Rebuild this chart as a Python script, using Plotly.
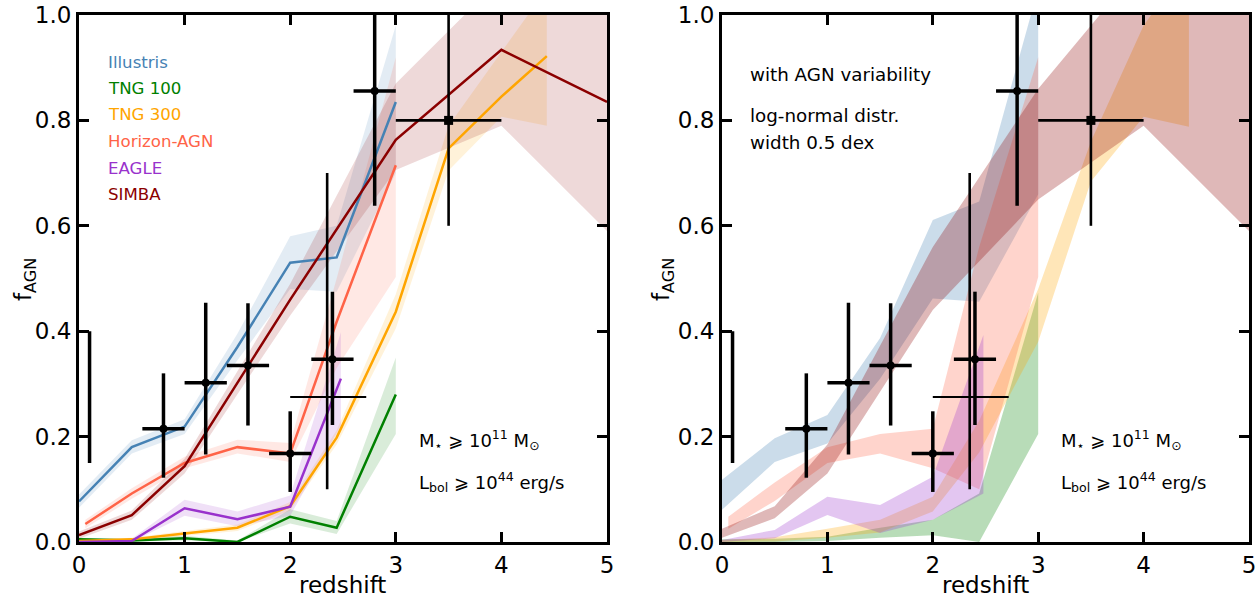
import plotly.graph_objects as go

# ---------------- data ----------------
# observational points (same in both panels)
obs_z = [0.8, 1.2, 1.6, 2.0, 2.4, 2.8]
obs_f = [0.215, 0.302, 0.335, 0.168, 0.347, 0.856]
obs_zerr = [0.2, 0.2, 0.2, 0.2, 0.2, 0.2]
obs_ferr_up = [0.105, 0.152, 0.118, 0.080, 0.128, 0.220]
obs_ferr_dn = [0.093, 0.136, 0.114, 0.073, 0.125, 0.218]

thin_z = [2.35]
thin_f = [0.275]
thin_zerr_up = [0.37]
thin_zerr_dn = [0.35]
thin_ferr_up = [0.425]
thin_ferr_dn = [0.175]

sq_z = [3.5]
sq_f = [0.80]
sq_zerr = [0.5]
sq_ferr_up = [0.25]
sq_ferr_dn = [0.20]

local_z = [0.1, 0.1]
local_f = [0.15, 0.40]

# simulations: medians (left) and spreads (left: Poisson, right: with variability)
ill_z = [0, 0.5, 1.0, 1.5, 2.0, 2.44, 3.0]
ill_f = [0.077, 0.180, 0.219, 0.370, 0.530, 0.540, 0.835]
ill_lo = [0.065, 0.168, 0.205, 0.345, 0.480, 0.475, 0.700]
ill_hi = [0.090, 0.193, 0.233, 0.395, 0.580, 0.600, 0.980]
ill_lo_v = [0.061, 0.152, 0.187, 0.310, 0.462, 0.456, 0.660]
ill_hi_v = [0.118, 0.197, 0.241, 0.387, 0.611, 0.646, 1.050]

t100_z = [0, 0.5, 1.0, 1.5, 2.0, 2.44, 3.0]
t100_f = [0.005, 0.003, 0.007, 0.0, 0.048, 0.027, 0.280]
t100_lo = [0.002, 0.001, 0.003, 0.0, 0.035, 0.015, 0.205]
t100_hi = [0.008, 0.006, 0.012, 0.003, 0.062, 0.040, 0.350]
t100_lo_v = [0.0, 0.0, 0.002, 0.008, 0.013, 0.0, 0.205]
t100_hi_v = [0.005, 0.006, 0.010, 0.027, 0.042, 0.092, 0.473]

t300_z = [0, 0.5, 1.0, 1.5, 2.0, 2.44, 3.0, 3.5, 4.0, 4.43]
t300_f = [0.002, 0.005, 0.016, 0.027, 0.068, 0.198, 0.437, 0.747, 0.845, 0.922]
t300_lo = [0.0, 0.002, 0.011, 0.021, 0.060, 0.185, 0.405, 0.705, 0.807, 0.790]
t300_hi = [0.004, 0.008, 0.021, 0.033, 0.076, 0.212, 0.470, 0.790, 0.930, 1.050]
t300_lo_v = [0.0, 0.001, 0.008, 0.018, 0.058, 0.170, 0.380, 0.684, 0.807, 0.788]
t300_hi_v = [0.004, 0.009, 0.025, 0.042, 0.086, 0.230, 0.480, 0.760, 0.980, 1.100]

hz_z = [0.06, 0.5, 1.0, 1.5, 2.0, 2.44, 3.0]
hz_f = [0.034, 0.092, 0.150, 0.180, 0.168, 0.418, 0.715]
hz_lo = [0.026, 0.082, 0.140, 0.168, 0.152, 0.330, 0.503]
hz_hi = [0.042, 0.102, 0.162, 0.194, 0.188, 0.500, 0.920]
hz_lo_v = [0.025, 0.078, 0.150, 0.168, 0.140, 0.100, 0.503]
hz_hi_v = [0.048, 0.113, 0.180, 0.205, 0.215, 0.560, 0.920]

ea_z = [0, 0.5, 1.0, 1.5, 2.0, 2.48]
ea_f = [0.0, 0.002, 0.064, 0.043, 0.067, 0.310]
ea_lo = [0.0, 0.0, 0.050, 0.030, 0.050, 0.220]
ea_hi = [0.002, 0.006, 0.080, 0.058, 0.088, 0.398]
ea_lo_v = [0.0, 0.007, 0.051, 0.017, 0.042, 0.092]
ea_hi_v = [0.004, 0.023, 0.086, 0.070, 0.124, 0.393]

si_z = [0, 0.5, 1.0, 2.0, 3.0, 4.0, 5.0]
si_f = [0.013, 0.051, 0.144, 0.460, 0.763, 0.934, 0.835]
si_lo = [0.006, 0.042, 0.130, 0.430, 0.706, 0.790, 0.590]
si_hi = [0.020, 0.060, 0.158, 0.490, 0.870, 1.070, 1.100]
si_lo_v = [0.008, 0.045, 0.130, 0.440, 0.650, 0.790, 0.590]
si_hi_v = [0.025, 0.068, 0.185, 0.560, 0.860, 1.100, 1.100]

sim_names = ["Illustris", "TNG 100", "TNG 300", "Horizon-AGN", "EAGLE", "SIMBA"]
sim_colors = ["#4682b4", "#008000", "#ffa500", "#ff6347", "#9932cc", "#8b0000"]
sims = [
    (ill_z, ill_f, ill_lo, ill_hi, ill_lo_v, ill_hi_v),
    (t100_z, t100_f, t100_lo, t100_hi, t100_lo_v, t100_hi_v),
    (t300_z, t300_f, t300_lo, t300_hi, t300_lo_v, t300_hi_v),
    (hz_z, hz_f, hz_lo, hz_hi, hz_lo_v, hz_hi_v),
    (ea_z, ea_f, ea_lo, ea_hi, ea_lo_v, ea_hi_v),
    (si_z, si_f, si_lo, si_hi, si_lo_v, si_hi_v),
]

FONT = "DejaVu Sans"
W, H = 1256, 598


def rgba(hexc, a):
    h = hexc.lstrip("#")
    r, g, b = int(h[0:2], 16), int(h[2:4], 16), int(h[4:6], 16)
    return f"rgba({r},{g},{b},{a})"


fig = go.Figure()

# ---------------- bands ----------------
for (z, f, lo, hi, lov, hiv), col in zip(sims, sim_colors):
    fig.add_trace(go.Scatter(x=list(z) + list(z)[::-1], y=list(hi) + list(lo)[::-1],
                             fill="toself", fillcolor=rgba(col, 0.15), mode="lines",
                             line=dict(width=0), hoverinfo="skip", showlegend=False,
                             xaxis="x", yaxis="y"))
    fig.add_trace(go.Scatter(x=list(z) + list(z)[::-1], y=list(hiv) + list(lov)[::-1],
                             fill="toself", fillcolor=rgba(col, 0.28), mode="lines",
                             line=dict(width=0), hoverinfo="skip", showlegend=False,
                             xaxis="x2", yaxis="y2"))

# ---------------- median lines (left) ----------------
for (z, f, lo, hi, lov, hiv), col, name in zip(sims, sim_colors, sim_names):
    fig.add_trace(go.Scatter(x=z, y=f, mode="lines", line=dict(color=col, width=2.5),
                             name=name, showlegend=False, xaxis="x", yaxis="y"))

# ---------------- observations ----------------
for xa, ya in (("x", "y"), ("x2", "y2")):
    fig.add_trace(go.Scatter(x=local_z, y=local_f, mode="lines",
                             line=dict(color="black", width=3.5), showlegend=False,
                             xaxis=xa, yaxis=ya))
    fig.add_trace(go.Scatter(
        x=thin_z, y=thin_f, mode="markers", marker=dict(size=0.1, color="black"),
        error_x=dict(type="data", symmetric=False, array=thin_zerr_up, arrayminus=thin_zerr_dn,
                     thickness=2, width=0, color="black"),
        error_y=dict(type="data", symmetric=False, array=thin_ferr_up, arrayminus=thin_ferr_dn,
                     thickness=2.6, width=0, color="black"),
        showlegend=False, xaxis=xa, yaxis=ya))
    fig.add_trace(go.Scatter(
        x=sq_z, y=sq_f, mode="markers", marker=dict(size=9, color="black", symbol="square"),
        error_x=dict(type="data", array=sq_zerr, thickness=2.6, width=0, color="black"),
        error_y=dict(type="data", symmetric=False, array=sq_ferr_up, arrayminus=sq_ferr_dn,
                     thickness=2.6, width=0, color="black"),
        showlegend=False, xaxis=xa, yaxis=ya))
    fig.add_trace(go.Scatter(
        x=obs_z, y=obs_f, mode="markers", marker=dict(size=8, color="black"),
        error_x=dict(type="data", array=obs_zerr, thickness=3.5, width=0, color="black"),
        error_y=dict(type="data", symmetric=False, array=obs_ferr_up, arrayminus=obs_ferr_dn,
                     thickness=3.5, width=0, color="black"),
        showlegend=False, xaxis=xa, yaxis=ya))

# ---------------- axes ----------------
y_dom = [1 - 542 / H, 1 - 15 / H]
xl_dom = [79 / W, 607 / W]
xr_dom = [722 / W, 1249 / W]

ax_common = dict(showline=True, linewidth=3, linecolor="black", mirror="allticks",
                 ticks="inside", ticklen=10, tickwidth=2.5, tickcolor="black",
                 showgrid=False, zeroline=False, automargin=False,
                 ticklabeloverflow="allow",
                 tickfont=dict(family=FONT, size=23, color="black"))

fig.update_layout(
    width=W, height=H, margin=dict(l=0, r=0, t=0, b=0, pad=0, autoexpand=False),
    paper_bgcolor="white", plot_bgcolor="white", showlegend=False,
    xaxis=dict(domain=xl_dom, range=[0, 5], dtick=1, tick0=0, anchor="y", **ax_common),
    yaxis=dict(domain=y_dom, range=[0, 1], dtick=0.2, tick0=0, tickformat=".1f", anchor="x", **ax_common),
    xaxis2=dict(domain=xr_dom, range=[0, 5], dtick=1, tick0=0, anchor="y2", **ax_common),
    yaxis2=dict(domain=y_dom, range=[0, 1], dtick=0.2, tick0=0, tickformat=".1f", anchor="x2", **ax_common),
)

ann = []
# axis titles
for cx in ((xl_dom[0] + xl_dom[1]) / 2, (xr_dom[0] + xr_dom[1]) / 2):
    ann.append(dict(x=cx, y=1 - 585 / H, xref="paper", yref="paper", text="redshift",
                    showarrow=False, xanchor="center", yanchor="middle",
                    font=dict(family=FONT, size=23, color="black")))
for px in (25, 663):
    ann.append(dict(x=px / W, y=1 - 280 / H, xref="paper", yref="paper",
                    text="f<sub>AGN</sub>", textangle=-90, showarrow=False,
                    xanchor="center", yanchor="middle",
                    font=dict(family=FONT, size=23, color="black")))
# legend (coloured text)
for i, (name, col) in enumerate(zip(sim_names, sim_colors)):
    ann.append(dict(x=106 / W, y=1 - (62 + 26.5 * i) / H, xref="paper", yref="paper",
                    text=name, showarrow=False, xanchor="left", yanchor="middle",
                    font=dict(family=FONT, size=16.6, color=col)))
# selection text
for px in (417, 1059):
    ann.append(dict(x=px / W, y=1 - 440 / H, xref="paper", yref="paper",
                    text="M<sub>⋆</sub> ⩾ 10<sup>11</sup> M<sub>⊙</sub>", showarrow=False,
                    xanchor="left", yanchor="middle",
                    font=dict(family=FONT, size=18, color="black")))
    ann.append(dict(x=px / W, y=1 - 482 / H, xref="paper", yref="paper",
                    text="L<sub>bol</sub> ⩾ 10<sup>44</sup> erg/s", showarrow=False,
                    xanchor="left", yanchor="middle",
                    font=dict(family=FONT, size=18, color="black")))
# right panel notes
for txt, py in (("with AGN variability", 74), ("log-normal distr.", 116), ("width 0.5 dex", 143)):
    ann.append(dict(x=748 / W, y=1 - py / H, xref="paper", yref="paper", text=txt,
                    showarrow=False, xanchor="left", yanchor="middle",
                    font=dict(family=FONT, size=18.3, color="black")))

fig.update_layout(annotations=ann)
fig.write_html("out.html")
